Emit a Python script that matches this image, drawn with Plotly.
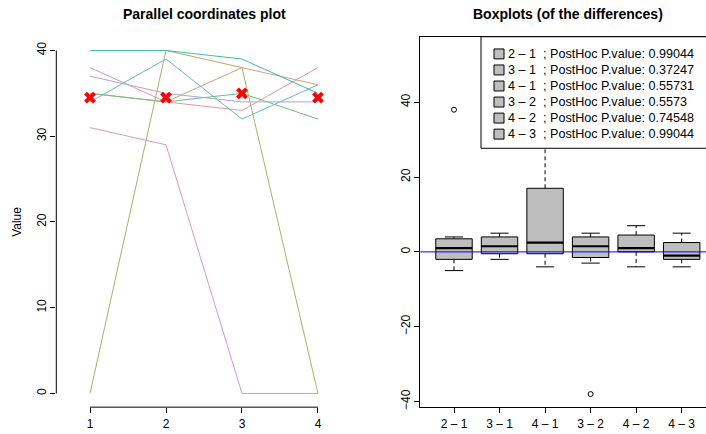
import plotly.graph_objects as go

W, H = 706, 434

# ---- Parallel coordinates data: each block measured under groups 1..4 ----
groups = [1, 2, 3, 4]
block_1 = [38, 34, 33, 38]
block_2 = [35, 34, 38, 36]
block_3 = [0, 40, 38, 0]
block_4 = [35, 34, 35, 32]
block_5 = [40, 40, 39, 35]
block_6 = [34, 39, 32, 36]
block_7 = [37, 35, 34, 34]
block_8 = [31, 29, 0, 0]
blocks = [block_1, block_2, block_3, block_4, block_5, block_6, block_7, block_8]
block_colors = ["#E495A5", "#D2A277", "#ABB065", "#72BB83",
                "#39BEB1", "#64B5D6", "#ACA4E2", "#D995CF"]
group_medians = [34.5, 34.5, 35, 34.5]

# ---- Pairwise differences: boxplot statistics ----
comparisons = ["2 \u2013 1", "3 \u2013 1", "4 \u2013 1", "3 \u2013 2", "4 \u2013 2", "4 \u2013 3"]
p_values = ["0.99044", "0.37247", "0.55731", "0.5573", "0.74548", "0.99044"]
whisker_low = [-5, -2, -4, -3, -4, -4]
quart_1 = [-2, -0.5, -0.5, -1.5, 0, -2]
medians = [1, 1.5, 2.5, 1.5, 1, -1]
quart_3 = [3.5, 4, 17, 4, 4.5, 2.5]
whisker_high = [4, 5, 40, 5, 7, 5]
outlier_x = ["2 \u2013 1", "3 \u2013 2"]
outlier_y = [38, -38]

FONT = "Liberation Sans, Arial, Helvetica, sans-serif"


def fx(px):
    return px / W


def fy(py):
    return 1 - py / H


fig = go.Figure()

# Parallel coordinates lines
for vals, col in zip(blocks, block_colors):
    fig.add_trace(go.Scatter(x=groups, y=vals, mode="lines",
                             line=dict(color=col, width=1),
                             showlegend=False, hoverinfo="skip",
                             xaxis="x", yaxis="y"))
fig.add_trace(go.Scatter(x=groups, y=group_medians, mode="markers",
                         marker=dict(symbol="x-thin", size=9, color="red",
                                     line=dict(color="red", width=4)),
                         showlegend=False, xaxis="x", yaxis="y"))

# Boxplots of the differences
BOX_HALF = 0.4
STAPLE_HALF = 0.2
for i, name in enumerate(comparisons):
    p = i + 1
    lo, q1, md, q3, hi = whisker_low[i], quart_1[i], medians[i], quart_3[i], whisker_high[i]
    fig.add_trace(go.Scatter(
        x=[p, p, None, p, p], y=[q3, hi, None, q1, lo], mode="lines",
        line=dict(color="black", width=1, dash="4px,3px"),
        showlegend=False, hoverinfo="skip", xaxis="x2", yaxis="y2"))
    fig.add_trace(go.Scatter(
        x=[p - STAPLE_HALF, p + STAPLE_HALF, None, p - STAPLE_HALF, p + STAPLE_HALF],
        y=[hi, hi, None, lo, lo], mode="lines",
        line=dict(color="black", width=1),
        showlegend=False, hoverinfo="skip", xaxis="x2", yaxis="y2"))
    fig.add_trace(go.Scatter(
        x=[p - BOX_HALF, p + BOX_HALF, p + BOX_HALF, p - BOX_HALF, p - BOX_HALF],
        y=[q1, q1, q3, q3, q1], mode="lines", fill="toself",
        fillcolor="#BEBEBE", line=dict(color="black", width=1),
        name=name, showlegend=False, xaxis="x2", yaxis="y2"))
    fig.add_trace(go.Scatter(
        x=[p - BOX_HALF, p + BOX_HALF], y=[md, md], mode="lines",
        line=dict(color="black", width=2.2),
        showlegend=False, hoverinfo="skip", xaxis="x2", yaxis="y2"))

fig.add_trace(go.Scatter(
    x=[comparisons.index(c) + 1 for c in outlier_x], y=outlier_y, mode="markers",
    marker=dict(symbol="circle-open", size=5, color="black", line=dict(width=1)),
    showlegend=False, xaxis="x2", yaxis="y2"))

# Plot regions (pixel geometry)
L_X0, L_X1 = 56.3, 351.7
R_X0 = 420.3
P_TOP, P_BOT = 37.0, 410.0

tick_font = dict(family=FONT, size=12, color="black")

fig.update_layout(
    width=W, height=H,
    margin=dict(l=0, r=0, t=0, b=0),
    paper_bgcolor="white", plot_bgcolor="white",
    font=dict(family=FONT, size=12, color="black"),
    showlegend=False,
    xaxis=dict(domain=[fx(L_X0), fx(L_X1)], range=[0.556, 4.444],
               tickvals=groups, ticktext=[str(g) for g in groups],
               ticks="outside", ticklen=5, tickcolor="black",
               showline=False, showgrid=False, zeroline=False,
               tickfont=tick_font, anchor="y"),
    yaxis=dict(domain=[fy(P_BOT), fy(P_TOP)], range=[-1.6, 41.6],
               tickvals=[0, 10, 20, 30, 40], tickangle=-90,
               ticks="outside", ticklen=5, tickcolor="black",
               showline=False, showgrid=False, zeroline=False,
               tickfont=tick_font, anchor="x",
               title=dict(text="Value", font=tick_font, standoff=10)),
    xaxis2=dict(domain=[fx(R_X0), 1.0], range=[0.26, 6.534],
                tickvals=list(range(1, len(comparisons) + 1)),
                ticktext=comparisons,
                ticks="outside", ticklen=5, tickcolor="black",
                showline=True, linecolor="black", linewidth=1, mirror=True,
                showgrid=False, zeroline=False,
                tickfont=tick_font, anchor="y2"),
    yaxis2=dict(domain=[fy(P_BOT), fy(P_TOP)], range=[-41.5, 57.5],
                tickvals=[-40, -20, 0, 20, 40], tickangle=-90,
                ticks="outside", ticklen=5, tickcolor="black",
                showline=True, linecolor="black", linewidth=1,
                showgrid=False, zeroline=False,
                tickfont=tick_font, anchor="x2"),
)

shapes = [
    # partial axis lines on the parallel coordinates panel
    dict(type="line", xref="x", yref="y domain", x0=groups[0], x1=groups[-1],
         y0=0, y1=0, line=dict(color="black", width=1)),
    dict(type="line", xref="x domain", yref="y", x0=0, x1=0,
         y0=0, y1=40, line=dict(color="black", width=1)),
    # reference line at zero difference
    dict(type="line", xref="x2 domain", yref="y2", x0=0, x1=1, y0=0, y1=0,
         line=dict(color="#0000FF", width=1), layer="above"),
]

# Legend box for the comparisons
LEG_X0, LEG_X1 = 481.0, 720.0
LEG_Y0, LEG_Y1 = P_TOP, 149.3
ROW0, ROW_STEP = 54.3, 16.15
shapes.append(dict(type="rect", xref="paper", yref="paper",
                   x0=fx(LEG_X0), x1=fx(LEG_X1), y0=fy(LEG_Y1), y1=fy(LEG_Y0),
                   fillcolor="white", line=dict(color="black", width=1),
                   layer="above"))
annotations = []
for i, (name, pv) in enumerate(zip(comparisons, p_values)):
    cy = ROW0 + i * ROW_STEP
    shapes.append(dict(type="rect", xref="paper", yref="paper",
                       x0=fx(494), x1=fx(504), y0=fy(cy + 5), y1=fy(cy - 5),
                       fillcolor="#BEBEBE", line=dict(color="black", width=1),
                       layer="above"))
    annotations.append(dict(xref="paper", yref="paper", x=fx(506), y=fy(cy),
                            xanchor="left", yanchor="middle", showarrow=False,
                            text=f"{name}\u00a0 ; PostHoc P.value: {pv}",
                            font=dict(family=FONT, size=12.6, color="black")))

# Panel titles
annotations.append(dict(xref="paper", yref="paper", x=fx((L_X0 + L_X1) / 2), y=fy(14),
                        xanchor="center", yanchor="middle", showarrow=False,
                        text="<b>Parallel coordinates plot</b>",
                        font=dict(family=FONT, size=14, color="black")))
annotations.append(dict(xref="paper", yref="paper", x=fx((R_X0 + 715.4) / 2), y=fy(14),
                        xanchor="center", yanchor="middle", showarrow=False,
                        text="<b>Boxplots (of the differences)</b>",
                        font=dict(family=FONT, size=14, color="black")))

fig.update_layout(shapes=shapes, annotations=annotations)

fig.write_html("out.html")
